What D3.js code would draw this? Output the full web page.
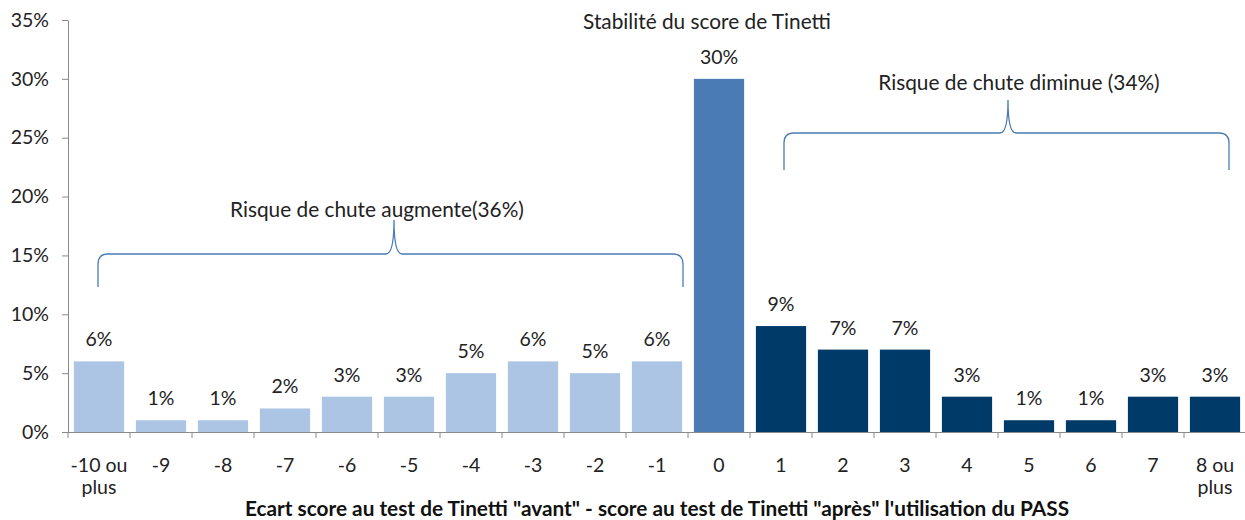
<!DOCTYPE html>
<html><head><meta charset="utf-8">
<script src="https://cdn.jsdelivr.net/npm/d3@7"></script>
<style>body{margin:0;background:#fff}svg{display:block;font-family:Lato,"Open Sans",sans-serif}</style>
</head><body><svg id="c" width="1245" height="520"></svg>
<script>
const categories = ["-10 ou plus","-9","-8","-7","-6","-5","-4","-3","-2","-1","0","1","2","3","4","5","6","7","8 ou plus"];
const values = [6,1,1,2,3,3,5,6,5,6,30,9,7,7,3,1,1,3,3];
const groups = ["aug","aug","aug","aug","aug","aug","aug","aug","aug","aug","stab","dim","dim","dim","dim","dim","dim","dim","dim"];
const yTicks = [0,5,10,15,20,25,30,35];
const colors = {aug:"#adc5e5", stab:"#4a7bb5", dim:"#003a69"};

const FS = 19.5, FA = 20.8;
const svg = d3.select("#c");
const x = d3.scaleBand().domain(categories).range([68,1246]).paddingInner(0.19).paddingOuter(0.095);
const y = d3.scaleLinear().domain([0,35]).range([432,20]);
const axisColor = "#8a8a8a";

// y axis
const ya = svg.append("g").attr("transform","translate(68,0)")
  .call(d3.axisLeft(y).tickValues(yTicks).tickFormat(d=>d+"%").tickSize(6).tickSizeOuter(0));
ya.select(".domain").attr("stroke",axisColor);
ya.selectAll(".tick line").attr("stroke",axisColor);
ya.selectAll("text").attr("font-size",FS).attr("fill","#222").attr("x",-19).attr("font-family","Lato, sans-serif");

// bars
svg.append("g").selectAll("rect").data(categories).join("rect")
  .attr("x",d=>x(d)).attr("width",x.bandwidth())
  .attr("y",(d,i)=>y(values[i])).attr("height",(d,i)=>y(0)-y(values[i]))
  .attr("fill",(d,i)=>colors[groups[i]]);

// x axis
const step = x.step();
const xa = svg.append("g");
xa.append("line").attr("x1",68).attr("x2",1246).attr("y1",y(0)+0.5).attr("y2",y(0)+0.5).attr("stroke",axisColor);
const bounds = d3.range(categories.length+1).map(i=>68+i*step);
xa.selectAll("line.t").data(bounds).join("line").attr("class","t")
  .attr("x1",d=>d).attr("x2",d=>d).attr("y1",y(0)).attr("y2",y(0)+6).attr("stroke",axisColor);
const lab = xa.selectAll("text").data(categories).join("text")
  .attr("text-anchor","middle").attr("font-size",FS).attr("fill","#222")
  .attr("transform",d=>`translate(${x(d)+x.bandwidth()/2},472)`);
lab.each(function(d){
  const parts = d.includes(" ou ") ? [d.split(" plus")[0], "plus"] : [d];
  d3.select(this).selectAll("tspan").data(parts).join("tspan").attr("x",0).attr("dy",(p,i)=>i?22:0).text(p=>p);
});

// value labels
svg.append("g").selectAll("text").data(categories).join("text")
  .attr("x",d=>x(d)+x.bandwidth()/2).attr("y",(d,i)=>y(values[i])-15)
  .attr("text-anchor","middle").attr("font-size",FS).attr("fill","#222")
  .text((d,i)=>values[i]+"%");

// axis title
svg.append("text").attr("x",657).attr("y",516).attr("text-anchor","middle")
  .attr("font-size",FA).attr("font-weight","bold").attr("fill","#111")
  .text("Ecart score au test de Tinetti \"avant\" - score au test de Tinetti \"après\" l'utilisation du PASS");

// brackets
function brace(x1,x2,yTop,yEnd,xm,yTip){
  const r=10;
  const p = `M${x1},${yEnd} L${x1},${yTop+r} Q${x1},${yTop} ${x1+r},${yTop} L${xm-8},${yTop} Q${xm},${yTop} ${xm},${yTip}`+
            ` Q${xm},${yTop} ${xm+8},${yTop} L${x2-r},${yTop} Q${x2},${yTop} ${x2},${yTop+r} L${x2},${yEnd}`;
  svg.append("path").attr("d",p).attr("fill","none").attr("stroke","#4a7bb5").attr("stroke-width",1.3);
}
brace(98,683,254,287,394,220);
brace(784,1229,133,170,1008,100);

svg.append("text").attr("x",377).attr("y",217).attr("text-anchor","middle").attr("font-size",FA).attr("fill","#222").text("Risque de chute augmente(36%)");
svg.append("text").attr("x",1019).attr("y",90).attr("text-anchor","middle").attr("font-size",FA).attr("fill","#222").text("Risque de chute diminue (34%)");
svg.append("text").attr("x",707).attr("y",29).attr("text-anchor","middle").attr("font-size",FA).attr("fill","#222").text("Stabilité du score de Tinetti");
</script></body></html>
